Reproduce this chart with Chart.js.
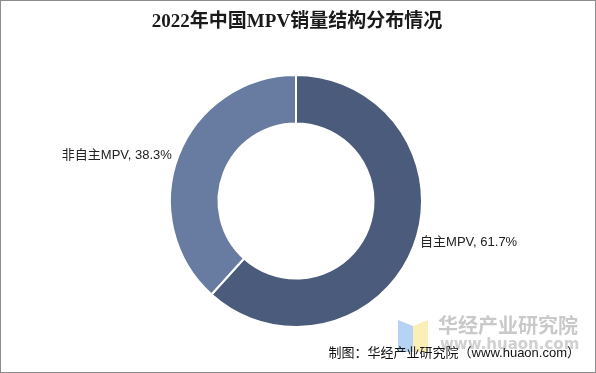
<!DOCTYPE html>
<html>
<head>
<meta charset="utf-8">
<script src="https://cdn.jsdelivr.net/npm/chart.js@4/dist/chart.umd.min.js"></script>
<style>
  html, body { margin: 0; padding: 0; background: #fff; }
  #wrap { width: 596px; height: 373px; position: relative; }
</style>
</head>
<body>
<div id="wrap"><canvas id="c" width="596" height="373"></canvas></div>
<script>
const TITLE = '2022年中国MPV销量结构分布情况';
const categories = ['自主MPV', '非自主MPV'];
const shares = [61.7, 38.3];
const sliceColors = ['#4b5b7b', '#687ca1'];
const SOURCE = '制图：华经产业研究院（www.huaon.com）';

const FONT_CJK = '"Noto Sans CJK SC", "Noto Sans", sans-serif';
const FONT_LABEL = '"Liberation Sans", "Noto Sans CJK SC", sans-serif';
const FONT_TITLE = '"Liberation Serif", "Noto Sans CJK SC", serif';

// ─── Decorations: frame, title, slice labels, watermark, source ──────────────
const decor = {
  id: 'decor',
  beforeDraw(chart) {
    const ctx = chart.ctx;
    ctx.save();
    ctx.fillStyle = '#fff';
    ctx.fillRect(0, 0, chart.width, chart.height);
    ctx.strokeStyle = '#8c8c8c';
    ctx.lineWidth = 1;
    ctx.strokeRect(0.5, 0.5, chart.width - 1, chart.height - 1);

    // watermark logo
    ctx.fillStyle = '#b6d2f5';
    ctx.beginPath();
    ctx.moveTo(398, 320); ctx.lineTo(413, 326); ctx.lineTo(413, 352); ctx.lineTo(398, 352);
    ctx.closePath(); ctx.fill();
    ctx.fillStyle = '#fbefb8';
    ctx.beginPath();
    ctx.moveTo(413, 326); ctx.lineTo(428, 320); ctx.lineTo(428, 352); ctx.lineTo(413, 352);
    ctx.closePath(); ctx.fill();
    ctx.fillStyle = '#c9c9c9';
    ctx.font = 'bold 20px ' + FONT_CJK;
    ctx.textAlign = 'left';
    ctx.textBaseline = 'middle';
    ctx.fillText('华经产业研究院', 438, 325);
    ctx.font = 'bold 15px "DejaVu Sans", sans-serif';
    ctx.fillStyle = '#d0d0d0';
    ctx.fillText('www.huaon.com', 440, 345);
    ctx.restore();
  },
  afterDraw(chart) {
    const ctx = chart.ctx;
    ctx.save();
    ctx.fillStyle = '#1a1a1a';
    ctx.font = 'bold 19px ' + FONT_TITLE;
    ctx.textAlign = 'center';
    ctx.textBaseline = 'middle';
    ctx.fillText(TITLE, 297, 22);

    const meta = chart.getDatasetMeta(0);
    ctx.font = '13px ' + FONT_LABEL;
    ctx.fillStyle = '#222';
    meta.data.forEach((arc, i) => {
      const mid = (arc.startAngle + arc.endAngle) / 2;
      const r = arc.outerRadius;
      const x = arc.x + Math.cos(mid) * (r + 7);
      const y = arc.y + Math.sin(mid) * r;
      const text = categories[i] + ', ' + shares[i].toFixed(1) + '%';
      ctx.textAlign = Math.cos(mid) >= 0 ? 'left' : 'right';
      ctx.fillText(text, x, i === 0 ? y - 4 : y);
    });

    ctx.font = '13px ' + FONT_LABEL;
    ctx.textAlign = 'right';
    ctx.fillStyle = '#111';
    ctx.fillText(SOURCE, 580, 353);
    ctx.restore();
  }
};

new Chart(document.getElementById('c'), {
  type: 'doughnut',
  data: {
    labels: categories,
    datasets: [{
      data: shares,
      backgroundColor: sliceColors,
      borderColor: '#ffffff',
      borderWidth: 2,
    }],
  },
  options: {
    responsive: false,
    animation: false,
    cutout: '61.5%',
    layout: { padding: { top: 74, bottom: 45, left: 169, right: 173 } },
    plugins: {
      legend: { display: false },
      title: { display: false },
      tooltip: { enabled: false },
    },
  },
  plugins: [decor],
});
</script>
</body>
</html>
